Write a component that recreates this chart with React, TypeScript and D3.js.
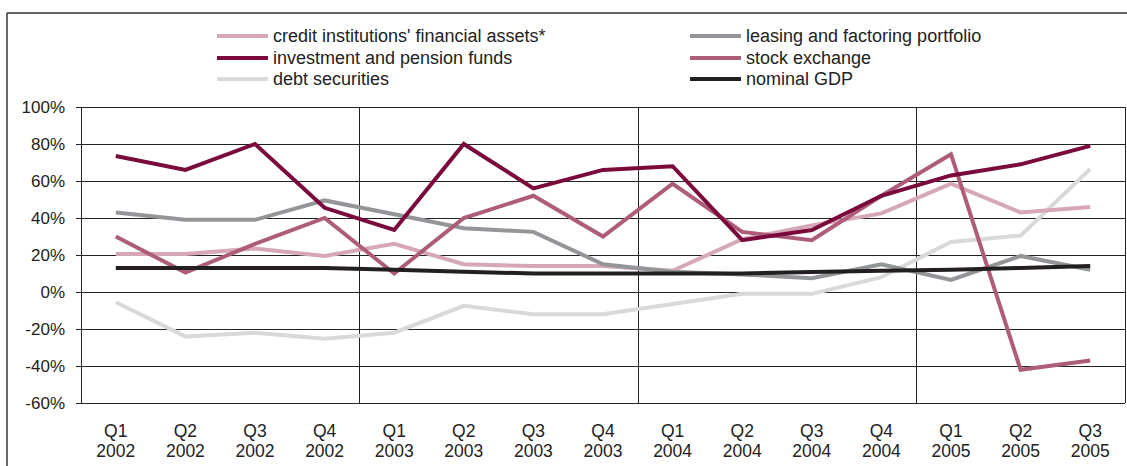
import React from "react";
import * as d3 from "d3";

const quarters = ["Q1", "Q2", "Q3", "Q4", "Q1", "Q2", "Q3", "Q4", "Q1", "Q2", "Q3", "Q4", "Q1", "Q2", "Q3"];
const years = ["2002", "2002", "2002", "2002", "2003", "2003", "2003", "2003", "2004", "2004", "2004", "2004", "2005", "2005", "2005"];
const yTicks = [-60, -40, -20, 0, 20, 40, 60, 80, 100];

const creditAssets = [20.5, 20.5, 23.5, 19.5, 26, 15, 14, 14, 11.5, 28.5, 36, 42.5, 58.5, 43, 46];
const investmentFunds = [73.5, 66, 80, 45.5, 33.5, 80, 56, 66, 68, 28, 33.5, 52, 63, 69, 79];
const debtSecurities = [-5.5, -24, -22, -25.2, -22, -7.5, -12, -12, -6.5, -1, -1, 8, 27, 30.5, 66.5];
const leasingFactoring = [43, 39, 39, 49.5, 42, 34.5, 32.5, 15, 11, 9.5, 7.5, 15, 6.5, 19.5, 12];
const stockExchange = [30, 10.5, 26, 40, 10, 40, 52, 30, 58.5, 32.5, 28, 52, 74.5, -42, -37];
const nominalGDP = [13, 13, 13, 13, 12, 11, 10, 10, 10, 10, 10.8, 11.5, 12, 13, 14];

const seriesNames = [
  "credit institutions' financial assets*",
  "leasing and factoring portfolio",
  "investment and pension funds",
  "stock exchange",
  "debt securities",
  "nominal GDP",
];

type Series = { name: string; values: number[]; color: string };

const series: Series[] = [
  { name: seriesNames[0], values: creditAssets, color: "#d6a7b6" },
  { name: seriesNames[1], values: leasingFactoring, color: "#939598" },
  { name: seriesNames[2], values: investmentFunds, color: "#7b0a3c" },
  { name: seriesNames[3], values: stockExchange, color: "#ad5c79" },
  { name: seriesNames[4], values: debtSecurities, color: "#d9d9d9" },
  { name: seriesNames[5], values: nominalGDP, color: "#231f20" },
];

// draw order (back to front)
const drawOrder = [4, 0, 1, 3, 2, 5];

export default function App() {
  const W = 1127;
  const H = 466;
  const left = 81;
  const right = 1125;
  const top = 107;
  const bottom = 403;

  const idx = quarters.map((_, i) => String(i));
  const x = d3.scaleBand<string>().domain(idx).range([left, right]).padding(0);
  const y = d3.scaleLinear().domain([-60, 100]).range([bottom, top]);
  const cx = (i: number) => (x(String(i)) as number) + x.bandwidth() / 2;

  const line = d3
    .line<number>()
    .x((_, i) => cx(i))
    .y((v) => y(v));

  const yearSeps = [4, 8, 12].map((i) => x(String(i)) as number);
  const font = "'Liberation Sans', Arial, sans-serif";

  const legendCols = [217, 690];
  const legendRows = [36, 58, 79];

  return (
    <svg width={W} height={H} style={{ position: "absolute", left: 0, top: 0, background: "#fff" }} fontFamily={font}>
      {/* outer frame */}
      <line x1={7} x2={W} y1={13} y2={13} stroke="#333" strokeWidth={1.5} />
      <line x1={7} x2={7} y1={13} y2={H} stroke="#333" strokeWidth={1.5} />

      {/* gridlines */}
      {yTicks.map((t) => (
        <g key={t}>
          <line x1={left - 5} x2={right} y1={Math.round(y(t)) + 0.5} y2={Math.round(y(t)) + 0.5} stroke="#222" strokeWidth={1} />
          <text x={65} y={y(t)} dy="0.36em" textAnchor="end" fontSize={17} fill="#222">
            {t}%
          </text>
        </g>
      ))}
      {yearSeps.map((sx, i) => (
        <line key={i} x1={Math.round(sx) + 0.5} x2={Math.round(sx) + 0.5} y1={top} y2={bottom} stroke="#222" strokeWidth={1} />
      ))}
      <line x1={left + 0.5} x2={left + 0.5} y1={top} y2={bottom} stroke="#222" strokeWidth={1} />
      <line x1={right + 0.5} x2={right + 0.5} y1={top} y2={bottom} stroke="#222" strokeWidth={1} />

      {/* series */}
      {drawOrder.map((k) => (
        <path
          key={k}
          d={line(series[k].values) || ""}
          fill="none"
          stroke={series[k].color}
          strokeWidth={4}
          strokeLinejoin="miter"
        />
      ))}

      {/* x labels */}
      {quarters.map((q, i) => (
        <g key={i} fontSize={17.5} fill="#222" textAnchor="middle">
          <text x={cx(i)} y={437}>{q}</text>
          <text x={cx(i)} y={457}>{years[i]}</text>
        </g>
      ))}

      {/* legend */}
      {series.map((s, i) => {
        const col = i % 2;
        const row = Math.floor(i / 2);
        const lx = legendCols[col];
        const ly = legendRows[row];
        return (
          <g key={s.name}>
            <line x1={lx} x2={lx + 51} y1={ly} y2={ly} stroke={s.color} strokeWidth={4} />
            <text x={lx + 56} y={ly} dy="0.36em" fontSize={18} fill="#222">
              {s.name}
            </text>
          </g>
        );
      })}
    </svg>
  );
}
